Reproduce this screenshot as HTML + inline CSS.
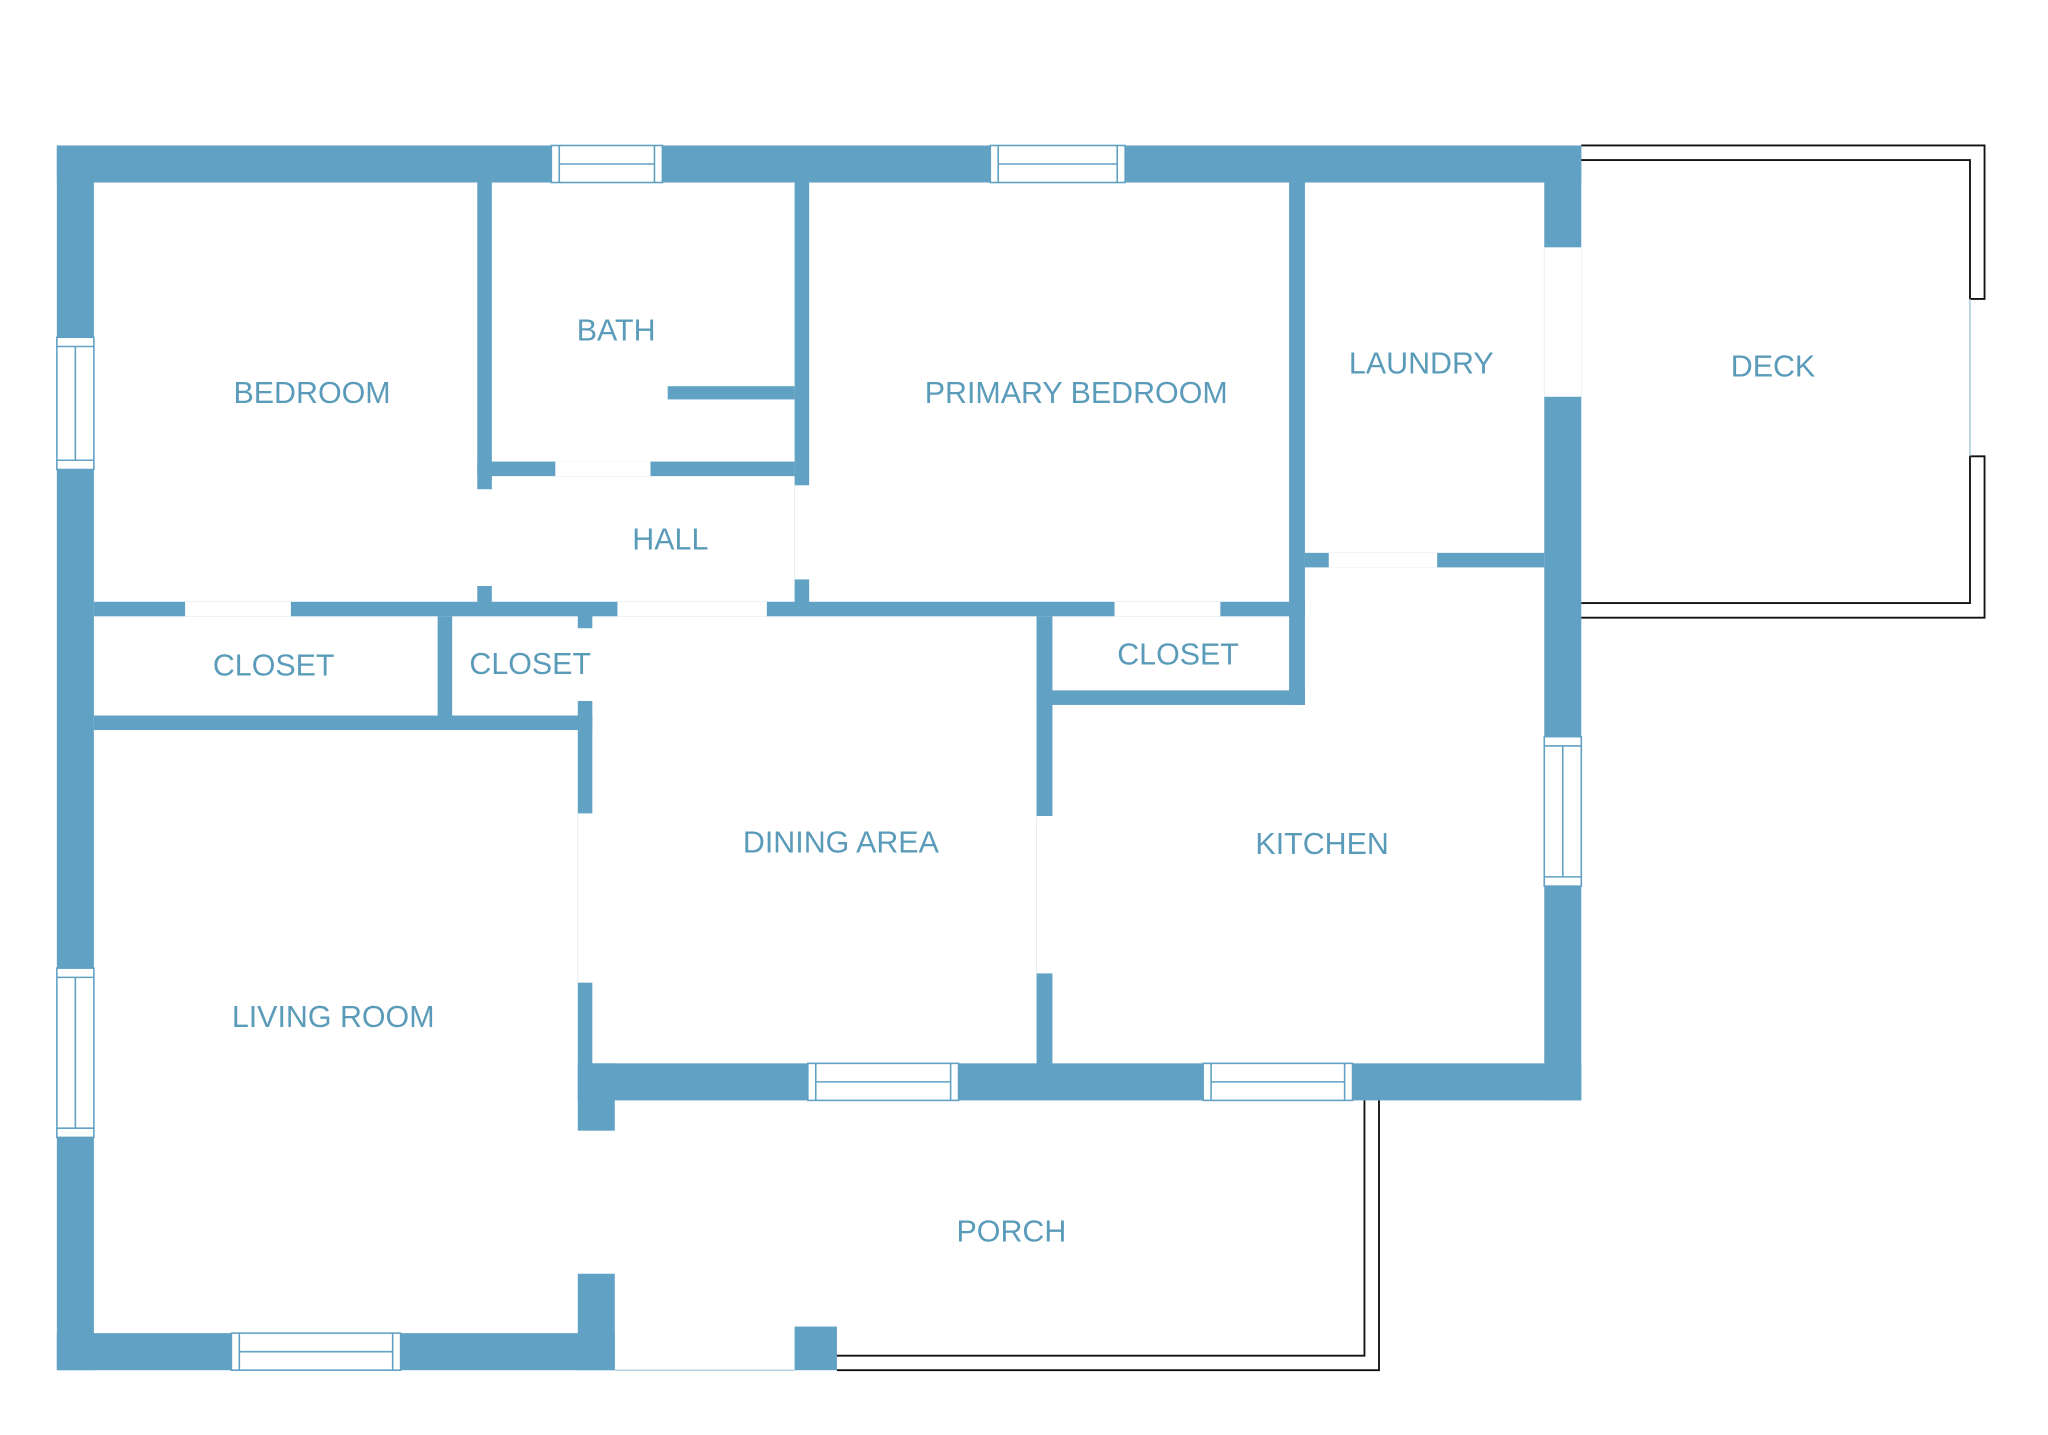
<!DOCTYPE html>
<html><head><style>html,body{margin:0;padding:0;background:#fff}svg{display:block}</style></head><body>
<svg width="2048" height="1435" viewBox="0 0 1549 1085" preserveAspectRatio="none" xmlns="http://www.w3.org/2000/svg">
<rect width="1549" height="1085" fill="#fff"/>
<g fill="#61a1c3">
<!-- outer walls -->
<rect x="43" y="110" width="1153" height="28"/>
<rect x="43" y="110" width="28" height="926"/>
<rect x="43" y="1008" width="422" height="28"/>
<rect x="1168" y="110" width="28" height="722"/>
<rect x="437" y="804" width="759" height="28"/>
<rect x="437" y="804" width="28" height="51"/>
<rect x="437" y="963" width="28" height="73"/>
<rect x="601" y="1003" width="32" height="33"/>
<!-- interior -->
<rect x="361" y="138" width="11" height="232"/>
<rect x="361" y="443" width="11" height="14"/>
<rect x="601" y="138" width="11" height="229"/>
<rect x="601" y="438" width="11" height="19"/>
<rect x="505" y="292" width="96" height="10"/>
<rect x="361" y="349" width="240" height="11"/>
<rect x="71" y="455" width="916" height="11"/>
<rect x="975" y="138" width="12" height="395"/>
<rect x="987" y="418" width="181" height="11"/>
<rect x="784" y="522" width="203" height="11"/>
<rect x="784" y="466" width="12" height="151"/>
<rect x="784" y="736" width="12" height="70"/>
<rect x="71" y="541" width="377" height="11"/>
<rect x="331" y="466" width="11" height="75"/>
<rect x="437" y="460" width="11" height="15"/>
<rect x="437" y="530" width="11" height="85"/>
<rect x="437" y="743" width="11" height="62"/>
</g>
<!-- door openings -->
<g fill="#fff">
<rect x="1168" y="187" width="28" height="113"/>
<rect x="361" y="370" width="11" height="73"/>
<rect x="601" y="367" width="11" height="71"/>
<rect x="420" y="349" width="72" height="11"/>
<rect x="140" y="455" width="80" height="11"/>
<rect x="467" y="455" width="113" height="11"/>
<rect x="843" y="455" width="80" height="11"/>
<rect x="1005" y="418" width="82" height="11"/>
<rect x="437" y="855" width="28" height="108"/>
</g>
<g fill="none" stroke="#e6eef3" stroke-width="0.8">
<line x1="1168" y1="187" x2="1168" y2="300"/>
<line x1="601" y1="367" x2="601" y2="438"/>
<line x1="437" y1="615" x2="437" y2="743"/>
<line x1="784" y1="617" x2="784" y2="736"/>
<line x1="465" y1="1036" x2="601" y2="1036" stroke="#9cc3d8"/>
</g>
<!-- windows -->
<g fill="#fff" stroke="#61a1c3" stroke-width="1.2">
<rect x="417" y="110" width="84" height="28"/><line x1="423" y1="110" x2="423" y2="138"/><line x1="495" y1="110" x2="495" y2="138"/><line x1="423" y1="124" x2="495" y2="124"/>
<rect x="749" y="110" width="102" height="28"/><line x1="755" y1="110" x2="755" y2="138"/><line x1="845" y1="110" x2="845" y2="138"/><line x1="755" y1="124" x2="845" y2="124"/>
<rect x="43" y="255" width="28" height="100"/><line x1="43" y1="262" x2="71" y2="262"/><line x1="43" y1="348" x2="71" y2="348"/><line x1="57" y1="262" x2="57" y2="348"/>
<rect x="43" y="732" width="28" height="128"/><line x1="43" y1="739" x2="71" y2="739"/><line x1="43" y1="853" x2="71" y2="853"/><line x1="57" y1="739" x2="57" y2="853"/>
<rect x="1168" y="557" width="28" height="113"/><line x1="1168" y1="564" x2="1196" y2="564"/><line x1="1168" y1="663" x2="1196" y2="663"/><line x1="1182" y1="564" x2="1182" y2="663"/>
<rect x="175" y="1008" width="128" height="28"/><line x1="181" y1="1008" x2="181" y2="1036"/><line x1="297" y1="1008" x2="297" y2="1036"/><line x1="181" y1="1022" x2="297" y2="1022"/>
<rect x="611" y="804" width="114" height="28"/><line x1="617" y1="804" x2="617" y2="832"/><line x1="719" y1="804" x2="719" y2="832"/><line x1="617" y1="818" x2="719" y2="818"/>
<rect x="910" y="804" width="113" height="28"/><line x1="916" y1="804" x2="916" y2="832"/><line x1="1017" y1="804" x2="1017" y2="832"/><line x1="916" y1="818" x2="1017" y2="818"/>
</g>
<!-- railings -->
<g fill="none" stroke="#111" stroke-width="1.4">
<polyline points="1196,110 1501,110 1501,226 1490,226 1490,121 1196,121"/>
<polyline points="1196,467 1501,467 1501,345 1490,345 1490,456 1196,456"/>
<polyline points="633,1036 1043,1036 1043,832"/>
<polyline points="633,1025 1032,1025 1032,832"/>
</g>
<line x1="1490" y1="226" x2="1490" y2="345" stroke="#9cc3d8" stroke-width="1"/>
<!-- labels -->
<g fill="#5b9bba" font-family="Liberation Sans, sans-serif" font-size="23" text-anchor="middle" dominant-baseline="central">
<text x="236" y="297">BEDROOM</text>
<text x="466" y="250">BATH</text>
<text x="814" y="297">PRIMARY BEDROOM</text>
<text x="1075" y="275">LAUNDRY</text>
<text x="1341" y="277">DECK</text>
<text x="507" y="408">HALL</text>
<text x="207" y="503">CLOSET</text>
<text x="401" y="502">CLOSET</text>
<text x="891" y="495">CLOSET</text>
<text x="636" y="637">DINING AREA</text>
<text x="1000" y="638">KITCHEN</text>
<text x="252" y="769">LIVING ROOM</text>
<text x="765" y="931">PORCH</text>
</g>
</svg>
</body></html>
